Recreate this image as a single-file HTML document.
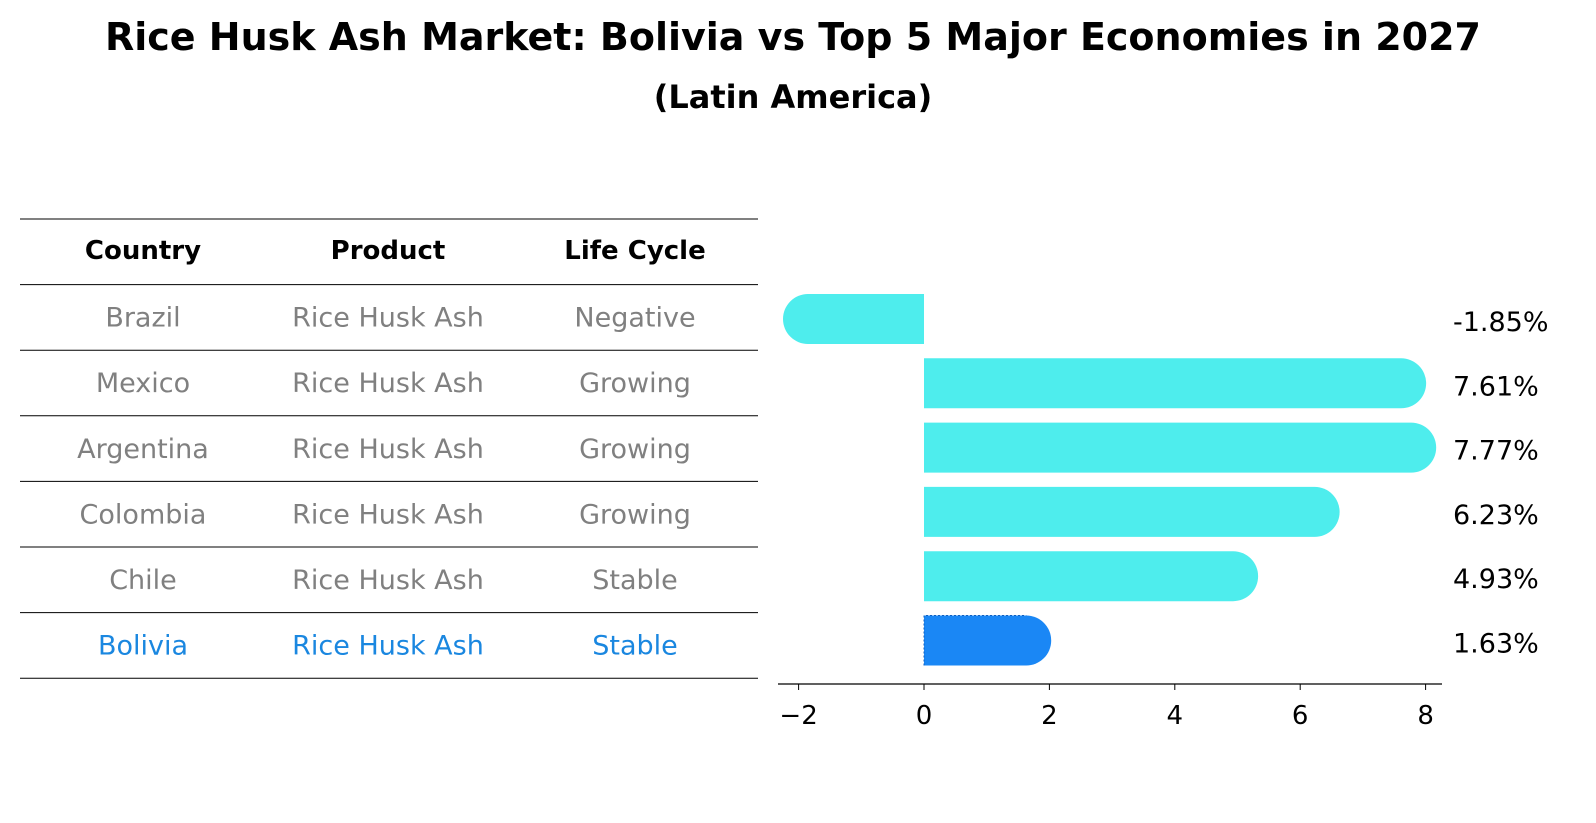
<!DOCTYPE html>
<html><head><meta charset="utf-8"><style>
html,body{margin:0;padding:0;background:#fff;overflow:hidden;width:1596px;height:823px;font-family:"Liberation Sans","DejaVu Sans",sans-serif;}
svg{display:block;}
svg text{font-family:"DejaVu Sans","Liberation Sans",sans-serif;}
</style></head><body>
<svg id="c" width="1596" height="823" xmlns="http://www.w3.org/2000/svg">
<text x="793" y="50" text-anchor="middle" font-size="38" font-weight="bold">Rice Husk Ash Market: Bolivia vs Top 5 Major Economies in 2027</text>
<text x="793" y="108" text-anchor="middle" font-size="32" font-weight="bold">(Latin America)</text>
<g id="table"></g>
<g id="bars"></g>
</svg>
<script>
const countries=["Brazil","Mexico","Argentina","Colombia","Chile","Bolivia"];
const products=["Rice Husk Ash","Rice Husk Ash","Rice Husk Ash","Rice Husk Ash","Rice Husk Ash","Rice Husk Ash"];
const lifecycle=["Negative","Growing","Growing","Growing","Stable","Stable"];
const values=[-1.85,7.61,7.77,6.23,4.93,1.63];
const ticks=[-2,0,2,4,6,8];
const NS="http://www.w3.org/2000/svg";
function mk(tag,attrs,parent){const e=document.createElementNS(NS,tag);for(const k in attrs)e.setAttribute(k,attrs[k]);parent.appendChild(e);return e;}
const tbl=document.getElementById('table'),bars=document.getElementById('bars');
const colX=[143,388,635];
const lineY=i=>219+i*65.6;
for(let i=0;i<=7;i++){const l=mk('line',{x1:20,x2:758,y1:lineY(i),y2:lineY(i),stroke:'#000','stroke-width':1},tbl);

}
["Country","Product","Life Cycle"].forEach((h,j)=>{const t=mk('text',{x:colX[j],y:259,'text-anchor':'middle','font-size':26,'font-weight':'bold'},tbl);t.textContent=h;

});
countries.forEach((c,i)=>{const row=[c,products[i],lifecycle[i]];const col=i===countries.length-1?'#1a87e0':'#808080';
row.forEach((v,j)=>{const t=mk('text',{x:colX[j],y:lineY(i+1)+42,'text-anchor':'middle','font-size':27,fill:col},tbl);t.textContent=v;

});});
const x=v=>924+v*62.7;
const y=i=>319+i*64.3;
const r=25;
values.forEach((v,i)=>{const last=i===values.length-1;const fill=last?'#1a87f5':'#4eeded';
const x0=x(0),x1=x(v);let d;
if(v>=0)d=`M${x0},${y(i)-r}H${x1}A${r},${r} 0 0 1 ${x1},${y(i)+r}H${x0}Z`;
else d=`M${x0},${y(i)-r}H${x1}A${r},${r} 0 0 0 ${x1},${y(i)+r}H${x0}Z`;
const p=mk('path',{d:d,fill:fill},bars);


if(last){const o=mk('path',{d:`M${x0},${y(i)+r}V${y(i)-r}H${x1}`,fill:'none',stroke:'#0f5fc0','stroke-width':1,'stroke-dasharray':'2,2'},bars);

}
const t=mk('text',{x:1453,y:y(i)+12,'font-size':27},bars);t.textContent=v.toFixed(2)+'%';

});
const ax=mk('line',{x1:778,x2:1442,y1:684,y2:684,stroke:'#000','stroke-width':1.3},bars);


ticks.forEach(tv=>{const tk=mk('line',{x1:x(tv),x2:x(tv),y1:684,y2:690,stroke:'#000'},bars);


const t=mk('text',{x:x(tv),y:724,'text-anchor':'middle','font-size':26},bars);t.textContent=tv<0?'\u2212'+Math.abs(tv):tv;

});
</script>
</body></html>
